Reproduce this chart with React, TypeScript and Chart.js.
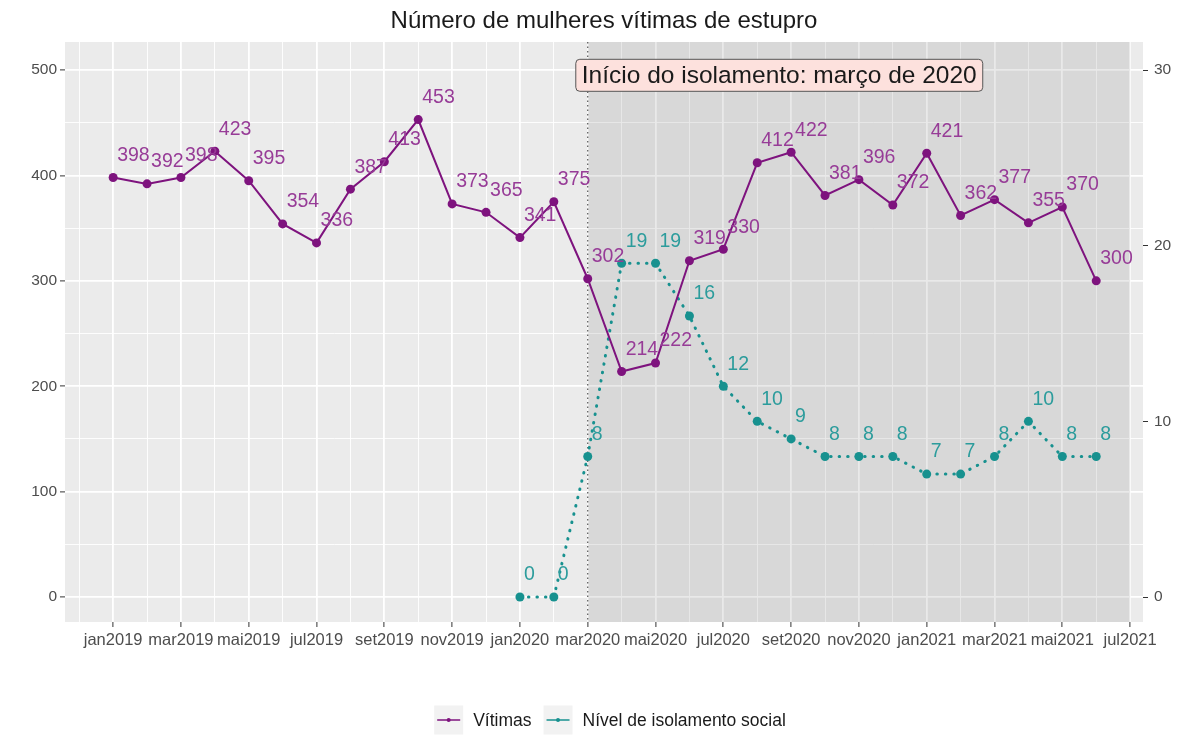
import React, { useEffect, useRef } from 'react';
import { Chart, registerables } from 'chart.js';

Chart.register(...registerables);

// ---- data ----
const xTickLabels = [
  'jan2019', 'mar2019', 'mai2019', 'jul2019', 'set2019', 'nov2019',
  'jan2020', 'mar2020', 'mai2020', 'jul2020', 'set2020', 'nov2020',
  'jan2021', 'mar2021', 'mai2021', 'jul2021',
];
// monthly, jan2019 .. jun2021
const victimValues = [
  398, 392, 398, 423, 395, 354, 336, 387, 413, 453, 373, 365,
  341, 375, 302, 214, 222, 319, 330, 412, 422, 381, 396, 372,
  421, 362, 377, 355, 370, 300,
];
// monthly, jan2020 .. jun2021
const isolationValues = [0, 0, 8, 19, 19, 16, 12, 10, 9, 8, 8, 8, 7, 7, 8, 10, 8, 8];
const isolationStartIndex = 12; // jan2020
const isolationMarkerIndex = 14; // mar2020
const shadeEndIndex = 30; // jul2021
const leftTicks = [0, 100, 200, 300, 400, 500];
const leftMinorTicks = [50, 150, 250, 350, 450];
const rightTicks = [0, 10, 20, 30];
const annotationText = 'Início do isolamento: março de 2020';
const annotationPos = { x: 19.65, y: 495 };
const titleText = 'Número de mulheres vítimas de estupro';
const legendLabels = ['Vítimas', 'Nível de isolamento social'];

const PURPLE = '#7e137e';
const PURPLE_TXT = '#973c97';
const TEAL = '#17918f';
const TEAL_TXT = '#2c9c9c';
const FONT = '"Liberation Sans", Arial, sans-serif';

const victimPoints = victimValues.map((v, i) => ({ x: i, y: v }));
const isolationPoints = isolationValues.map((v, i) => ({ x: isolationStartIndex + i, y: v }));

export default function App() {
  const ref = useRef<HTMLCanvasElement | null>(null);

  useEffect(() => {
    document.body.style.margin = '0';
    const canvas = ref.current;
    if (!canvas) return;

    const bgPlugin = {
      id: 'bg',
      beforeDraw(chart: any) {
        const { ctx, chartArea: a } = chart;
        ctx.save();
        ctx.fillStyle = '#ffffff';
        ctx.fillRect(0, 0, chart.width, chart.height);
        ctx.fillStyle = '#ebebeb';
        ctx.fillRect(a.left, a.top, a.right - a.left, a.bottom - a.top);
        ctx.restore();
      },
      beforeDatasetsDraw(chart: any) {
        const { ctx, chartArea: a, scales } = chart;
        const x0 = scales.x.getPixelForValue(isolationMarkerIndex);
        const x1 = scales.x.getPixelForValue(shadeEndIndex);
        ctx.save();
        ctx.fillStyle = 'rgba(120,120,120,0.16)';
        ctx.fillRect(x0, a.top, x1 - x0, a.bottom - a.top);
        ctx.strokeStyle = '#555';
        ctx.lineWidth = 1.2;
        ctx.setLineDash([1.5, 3]);
        ctx.beginPath();
        ctx.moveTo(x0, a.top);
        ctx.lineTo(x0, a.bottom);
        ctx.stroke();
        ctx.restore();
      },
      afterDatasetsDraw(chart: any) {
        const { ctx, scales } = chart;
        ctx.save();
        ctx.font = `19.5px ${FONT}`;
        ctx.textAlign = 'left';
        ctx.textBaseline = 'middle';
        [1, 0].forEach((di) => {
          const meta = chart.getDatasetMeta(di);
          const vals = di === 0 ? victimValues : isolationValues;
          ctx.fillStyle = di === 0 ? PURPLE_TXT : TEAL_TXT;
          meta.data.forEach((pt: any, i: number) => {
            ctx.fillText(String(vals[i]), pt.x + 4, pt.y - 22);
          });
        });
        // annotation label
        const cx = scales.x.getPixelForValue(annotationPos.x);
        const cy = scales.y.getPixelForValue(annotationPos.y);
        ctx.font = `24.5px ${FONT}`;
        const w = ctx.measureText(annotationText).width + 12;
        const h = 32;
        const bx = cx - w / 2;
        const by = cy - h / 2;
        ctx.fillStyle = '#fde1dd';
        ctx.strokeStyle = '#555';
        ctx.lineWidth = 1;
        ctx.setLineDash([]);
        ctx.beginPath();
        (ctx as any).roundRect(bx, by, w, h, 4);
        ctx.fill();
        ctx.stroke();
        ctx.fillStyle = '#1a1a1a';
        ctx.textAlign = 'center';
        ctx.fillText(annotationText, cx, cy + 1);
        ctx.restore();
      },
      afterDraw(chart: any) {
        const { ctx, chartArea: a } = chart;
        ctx.save();
        // title
        ctx.font = `24px ${FONT}`;
        ctx.fillStyle = '#1a1a1a';
        ctx.textAlign = 'center';
        ctx.textBaseline = 'middle';
        ctx.fillText(titleText, (a.left + a.right) / 2, 21);
        // legend
        ctx.font = `17.5px ${FONT}`;
        const keyW = 29, keyH = 29, gapKT = 10, gapItems = 12;
        const tw = legendLabels.map((t) => ctx.measureText(t).width);
        const total = keyW * 2 + gapKT * 2 + tw[0] + tw[1] + gapItems;
        let x = (a.left + a.right) / 2 + 6 - total / 2;
        const cy = 720;
        const colors = [PURPLE, TEAL];
        legendLabels.forEach((t, i) => {
          ctx.fillStyle = '#f2f2f2';
          ctx.fillRect(x, cy - keyH / 2, keyW, keyH);
          ctx.strokeStyle = colors[i];
          ctx.lineWidth = 1.5;
          ctx.beginPath();
          ctx.moveTo(x + 3, cy);
          ctx.lineTo(x + keyW - 3, cy);
          ctx.stroke();
          ctx.fillStyle = colors[i];
          ctx.beginPath();
          ctx.arc(x + keyW / 2, cy, 2, 0, Math.PI * 2);
          ctx.fill();
          ctx.fillStyle = '#1a1a1a';
          ctx.textAlign = 'left';
          ctx.fillText(t, x + keyW + gapKT, cy + 1);
          x += keyW + gapKT + tw[i] + gapItems;
        });
        ctx.restore();
      },
    };

    const chart = new Chart(canvas, {
      type: 'line',
      data: {
        datasets: [
          {
            label: legendLabels[0],
            data: victimPoints,
            borderColor: PURPLE,
            backgroundColor: PURPLE,
            borderWidth: 2,
            pointRadius: 4.5,
            pointBorderWidth: 0,
            yAxisID: 'y',
          },
          {
            label: legendLabels[1],
            data: isolationPoints,
            borderColor: TEAL,
            backgroundColor: TEAL,
            borderWidth: 3,
            borderDash: [0.5, 8],
            borderCapStyle: 'round',
            pointRadius: 4.5,
            pointBorderWidth: 0,
            yAxisID: 'y2',
          },
        ],
      },
      options: {
        responsive: false,
        animation: false,
        layout: { padding: { top: 42, left: 0, right: 0, bottom: 0 } },
        plugins: {
          legend: { display: false },
          title: { display: false },
          tooltip: { enabled: false },
        },
        scales: {
          x: {
            type: 'linear',
            min: -1.42,
            max: 30.38,
            afterBuildTicks(scale: any) {
              const t = [];
              for (let v = -1; v <= 30; v++) t.push({ value: v });
              scale.ticks = t;
            },
            afterFit(scale: any) {
              scale.height = 128;
            },
            grid: {
              color: '#ffffff',
              lineWidth: (c: any) => (c.tick && c.tick.value % 2 === 0 ? 1.8 : 0.9),
              tickColor: (c: any) => (c.tick && c.tick.value % 2 === 0 ? '#333333' : 'rgba(0,0,0,0)'),
              tickLength: 5,
              tickWidth: 1,
              drawTicks: true,
            },
            border: { display: false },
            ticks: {
              autoSkip: false,
              maxRotation: 0,
              minRotation: 0,
              padding: 4,
              color: '#4d4d4d',
              font: { family: FONT, size: 16.5 },
              callback: (v: any) => {
                const n = Number(v);
                return n >= 0 && n % 2 === 0 ? xTickLabels[n / 2] : '';
              },
            },
          },
          y: {
            type: 'linear',
            position: 'left',
            min: -23.7,
            max: 526.6,
            afterBuildTicks(scale: any) {
              scale.ticks = [...leftTicks, ...leftMinorTicks]
                .sort((a, b) => a - b)
                .map((v) => ({ value: v }));
            },
            afterFit(scale: any) {
              scale.width = 65;
            },
            grid: {
              color: '#ffffff',
              lineWidth: (c: any) => (c.tick && leftTicks.includes(c.tick.value) ? 1.8 : 0.9),
              tickColor: (c: any) => (c.tick && leftTicks.includes(c.tick.value) ? '#333333' : 'rgba(0,0,0,0)'),
              tickLength: 5,
              tickWidth: 1,
            },
            border: { display: false },
            ticks: {
              padding: 3,
              color: '#4d4d4d',
              font: { family: FONT, size: 15.5 },
              callback: (v: any) => (leftTicks.includes(Number(v)) ? String(v) : ''),
            },
          },
          y2: {
            type: 'linear',
            position: 'right',
            min: -1.422,
            max: 31.596,
            afterBuildTicks(scale: any) {
              scale.ticks = rightTicks.map((v) => ({ value: v }));
            },
            afterFit(scale: any) {
              scale.width = 57;
            },
            grid: {
              drawOnChartArea: false,
              tickColor: '#333333',
              tickLength: 5,
              tickWidth: 1,
            },
            border: { display: false },
            ticks: {
              padding: 6,
              color: '#4d4d4d',
              font: { family: FONT, size: 15.5 },
            },
          },
        },
      },
      plugins: [bgPlugin],
    } as any);

    return () => chart.destroy();
  }, []);

  return (
    <div style={{ width: 1200, height: 750 }}>
      <canvas ref={ref} width={1200} height={750} style={{ display: 'block' }} />
    </div>
  );
}
